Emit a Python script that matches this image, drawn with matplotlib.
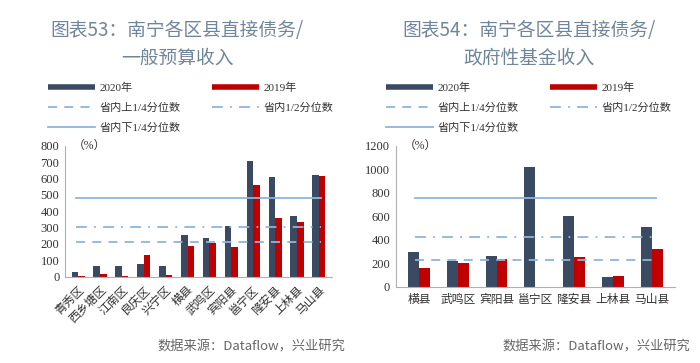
import numpy as np
import matplotlib
matplotlib.use("Agg")
from matplotlib import pyplot as plt
from matplotlib.lines import Line2D

# chart 53: direct debt / general budget revenue
left_names = ["青秀区", "西乡塘区", "江南区", "良庆区", "兴宁区", "横县", "武鸣区",
              "宾阳县", "邕宁区", "隆安县", "上林县", "马山县"]
left_2020 = [30, 68, 63, 78, 68, 257, 238, 308, 705, 608, 370, 620]
left_2019 = [5, 18, 5, 135, 8, 185, 207, 182, 557, 360, 337, 612]
left_upper_q = 210
left_median = 303
left_lower_q = 478

# chart 54: direct debt / government fund revenue
right_names = ["横县", "武鸣区", "宾阳县", "邕宁区", "隆安县", "上林县", "马山县"]
right_2020 = [298, 222, 262, 1015, 600, 80, 510]
right_2019 = [163, 205, 240, 0, 250, 95, 320]
right_upper_q = 225
right_median = 425
right_lower_q = 752

NAVY = "#3b4a63"
RED = "#c00000"
LINE = "#8fb4dc"
TITLE = "#71859a"
MIX = ["Liberation Serif", "Noto Sans CJK SC"]

plt.rcParams["font.family"] = MIX

fig = plt.figure(figsize=(7, 3.63), dpi=100)


def draw(ax, names, v2020, v2019, uq, med, lq, ymax, ystep, width, rotate):
    x = np.arange(len(names))
    ax.bar(x - width / 2, v2020, width, color=NAVY)
    ax.bar(x + width / 2, v2019, width, color=RED)
    xs = [x[0] - 0.1, x[-1] + 0.1]
    ax.plot(xs, [lq, lq], color=LINE, lw=1.3)
    ax.plot(xs, [med, med], color=LINE, lw=1.3, ls=(0, (6, 4, 1, 4)))
    ax.plot(xs, [uq, uq], color=LINE, lw=1.3, ls=(0, (5, 4)))
    ax.set_xlim(-0.6, len(names) - 0.4)
    ax.set_ylim(0, ymax)
    ax.set_yticks(np.arange(0, ymax + 1, ystep))
    ax.set_xticks(x)
    if rotate:
        ax.set_xticklabels(names, rotation=45, ha="right", rotation_mode="anchor",
                           fontsize=8.5, color="#333333")
    else:
        ax.set_xticklabels(names, fontsize=8.5, color="#333333")
    ax.tick_params(axis="y", labelsize=9, length=0, pad=4, colors="#333333")
    ax.tick_params(axis="x", length=0, pad=5)
    for s in ["top", "right"]:
        ax.spines[s].set_visible(False)
    for s in ["left", "bottom"]:
        ax.spines[s].set_color("#b0b0b0")
        ax.spines[s].set_linewidth(0.8)
    ax.text(0.03, 1.0, "（%）", transform=ax.transAxes, fontsize=8.5,
            va="center", ha="left", color="#333333")


ax1 = fig.add_axes([65 / 700, 1 - 276.7 / 363, 267 / 700, 131 / 363])
draw(ax1, left_names, left_2020, left_2019, left_upper_q, left_median, left_lower_q,
     800, 100, 0.3, True)

ax2 = fig.add_axes([395.7 / 700, 1 - 286.7 / 363, 279.3 / 700, 141 / 363])
draw(ax2, right_names, right_2020, right_2019, right_upper_q, right_median, right_lower_q,
     1200, 200, 0.28, False)

handles = [Line2D([], [], color=NAVY, lw=4, solid_capstyle="butt"),
           Line2D([], [], color=LINE, lw=1.3, ls=(0, (5, 4))),
           Line2D([], [], color=LINE, lw=1.3),
           Line2D([], [], color=RED, lw=4, solid_capstyle="butt"),
           Line2D([], [], color=LINE, lw=1.3, ls=(0, (6, 4, 1, 4)))]
labels = ["2020年", "省内上1/4分位数", "省内下1/4分位数", "2019年", "省内1/2分位数"]

for x0, xc, title in [(48, 177, "图表53：南宁各区县直接债务/\n一般预算收入"),
                      (386, 529, "图表54：南宁各区县直接债务/\n政府性基金收入")]:
    fig.legend(handles, labels, ncol=2, loc="upper left",
               bbox_to_anchor=(x0 / 700, 1 - 83 / 363), frameon=False,
               fontsize=8, handlelength=4.2, handletextpad=0.4,
               columnspacing=2.9, labelspacing=0.85, borderaxespad=0, borderpad=0,
               labelcolor="#333333")
    fig.text(xc / 700, 1 - 44 / 363, title, ha="center", va="center",
             fontsize=13.5, color=TITLE, family="Noto Sans CJK SC", linespacing=1.4)

fig.text(157 / 700, 1 - 347 / 363, "数据来源：Dataflow，兴业研究", fontsize=9.5,
         color="#666666", family="Noto Sans CJK SC", va="center")
fig.text(502 / 700, 1 - 347 / 363, "数据来源：Dataflow，兴业研究", fontsize=9.5,
         color="#666666", family="Noto Sans CJK SC", va="center")

fig.savefig("out.png", dpi=100)
